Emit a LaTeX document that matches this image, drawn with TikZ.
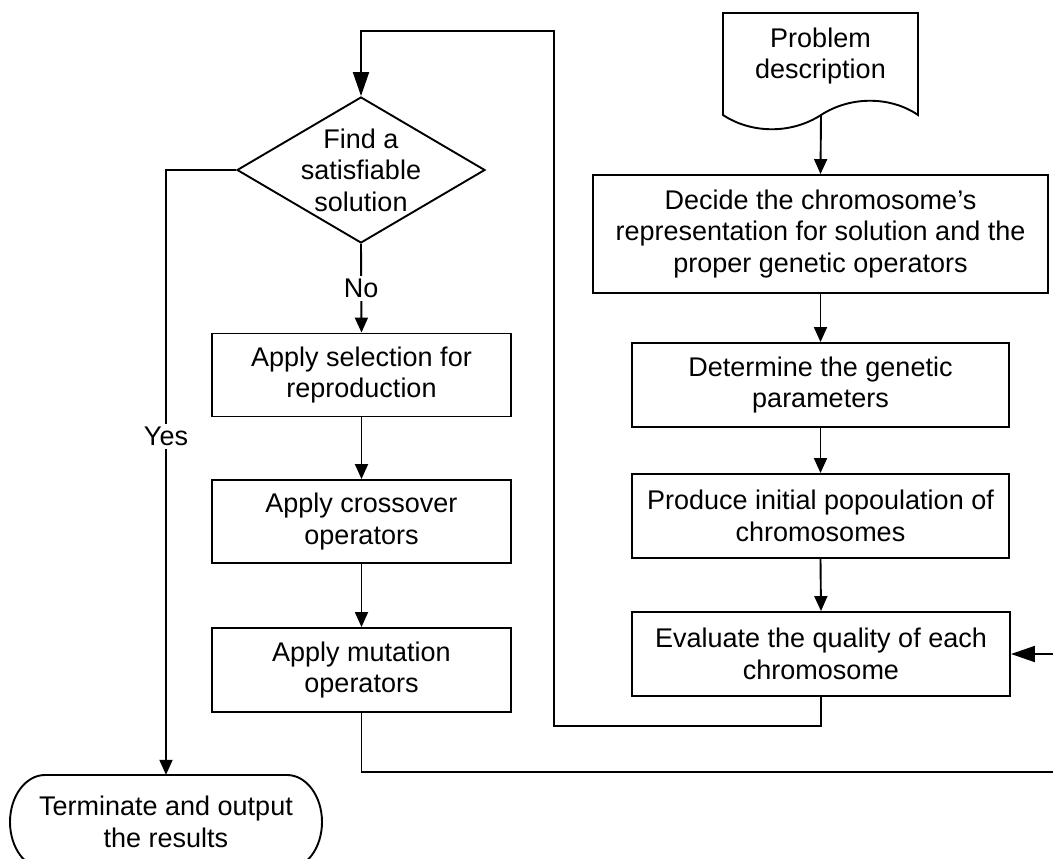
\documentclass[tikz,border=0pt]{standalone}
\usepackage{fontspec}
\setmainfont{Liberation Sans}
\usetikzlibrary{arrows.meta,shapes.geometric}
\tikzset{
  every node/.style={font=\fontsize{27}{31.5}\selectfont, align=center, inner sep=0pt},
  box/.style={draw, rectangle, line width=1.9pt},
  dia/.style={draw, diamond, line width=1.9pt, minimum width=248pt, minimum height=146pt},
  conn/.style={line width=1.9pt, -{Triangle[length=15pt,width=13pt]}},
  bigconn/.style={line width=1.9pt, -{Triangle[length=24pt,width=16pt]}},
  lbl/.style={fill=white, inner sep=3pt},
  outline/.style={line width=1.9pt}
}
\begin{document}
\begin{tikzpicture}[x=1pt,y=-1pt]
\useasboundingbox (0,0) rectangle (1053,859);

% left column
\node[dia] (dec) at (361,170) {};
\node (dectxt) at (dec.center) {Find a\\satisfiable\\solution};
\node[box, minimum width=299pt, minimum height=83pt] (sel) at (361.5,375) {Apply selection for\\reproduction};
\node[box, minimum width=299pt, minimum height=83pt] (cro) at (361.5,521.5) {Apply crossover\\operators};
\node[box, minimum width=299pt, minimum height=84pt] (mut) at (361.5,670) {Apply mutation\\operators};

% terminator
\node[minimum width=312pt, minimum height=94pt] (term) at (166,822) {Terminate and output\\the results};
\draw[outline] (45,775) -- (287,775) arc[start angle=90, end angle=-90, x radius=35pt, y radius=47pt]
  -- (45,869) arc[start angle=270, end angle=90, x radius=35pt, y radius=47pt] -- cycle;

% right column
\node (doc) at (820.5,56) {Problem\\description};
\draw[outline] (723,115) -- (723,13) -- (918,13) -- (918,115)
  .. controls (892,97) and (852,95) .. (821,115)
  .. controls (790,135) and (750,133) .. (723,115) -- cycle;
\coordinate (docb) at (821,115);
\node[box, minimum width=455pt, minimum height=118pt] (decide) at (820.5,234) {Decide the chromosome’s\\representation for solution and the\\proper genetic operators};
\node[box, minimum width=377pt, minimum height=84pt] (det) at (820.5,385) {Determine the genetic\\parameters};
\node[box, minimum width=377pt, minimum height=84pt] (prod) at (820.5,516) {Produce initial popoulation of\\chromosomes};
\node[box, minimum width=378pt, minimum height=84pt] (eval) at (821,654) {Evaluate the quality of each\\chromosome};

% connectors
\coordinate (loopA) at (554,726);
\coordinate (loopB) at (554,31);
\coordinate (rb) at (1062,772);

\draw[conn] (docb) -- (decide.north);
\draw[conn] (decide.south) -- (det.north);
\draw[conn] (det.south) -- (prod.north);
\draw[conn] (prod.south) -- (eval.north);

\draw[bigconn] (eval.south) |- (loopA) -- (loopB) -| (dec.north);
\draw[conn] (dec.south) -- node[lbl, pos=0.5] {No} (sel.north);
\draw[conn] (sel.south) -- (cro.north);
\draw[conn] (cro.south) -- (mut.north);
\draw[conn] (dec.west) -| node[lbl, pos=0.72] {Yes} (term.north);
\draw[bigconn] (mut.south) |- (rb) |- (eval.east);
\end{tikzpicture}
\end{document}
